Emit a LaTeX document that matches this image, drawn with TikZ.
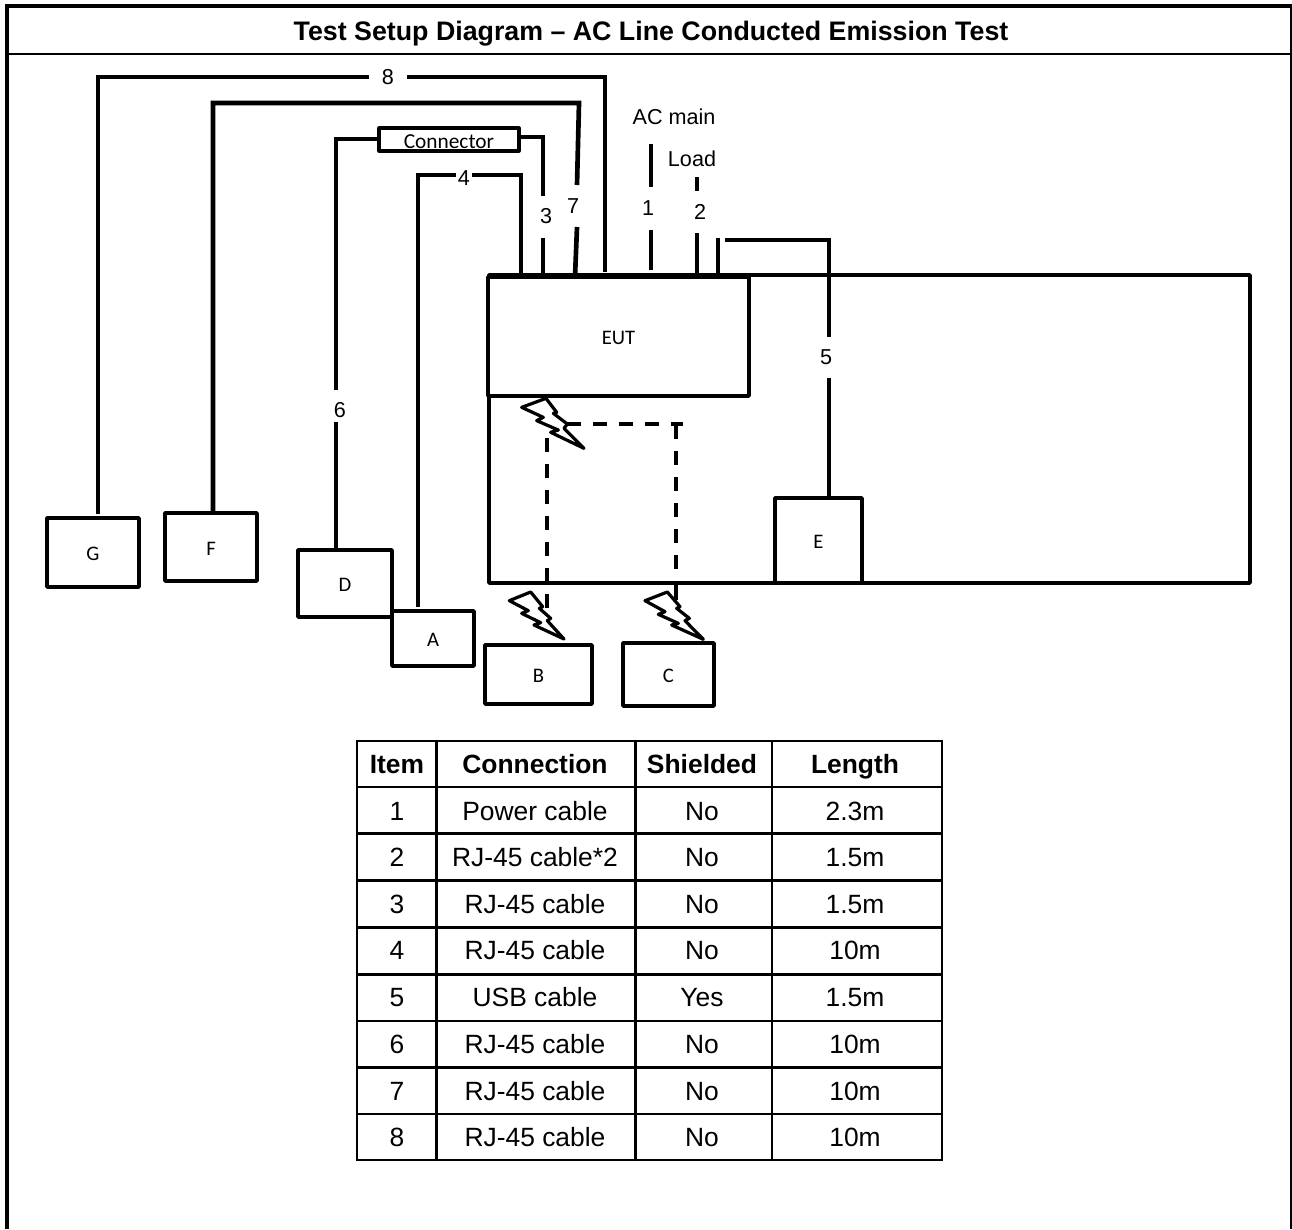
\documentclass[tikz,border=0pt]{standalone}
\usepackage{fontspec}
\setmainfont{Liberation Sans}
\newfontfamily\calfont{Carlito}
\begin{document}
\begin{tikzpicture}[x=0.75pt,y=-0.75pt,
  frameline/.style={line width=3pt,line cap=butt},
  devbox/.style={draw,line width=2.6pt,line join=round,inner sep=0pt,outer sep=0pt,anchor=north west,text height=12pt,text depth=0pt,font=\calfont\fontsize{15.5}{18}\selectfont},
  cable/.style={line width=3.5pt,line join=miter},
  dashcable/.style={line width=3pt,dash pattern=on 10.5pt off 9pt},
  bolt/.style={draw,fill=white,line width=2.4pt,line join=round},
  wirelabel/.style={inner sep=0pt,outer sep=0pt,font=\fontsize{16.2}{18}\selectfont},
  cell/.style={inner sep=0pt,anchor=base,font=\fontsize{19.8}{22}\selectfont},
  headcell/.style={cell,font=\bfseries\fontsize{19.8}{22}\selectfont},
  tableline/.style={line width=2.2pt,line cap=rect}]
\useasboundingbox (0,0) rectangle (1292,1229);
% frame
\draw[frameline] (7,1229) -- (7,6) -- (1292,6);
\draw[line width=1.3pt] (1291.2,6) -- (1291.2,1229);
\draw[line width=2pt] (7,54) -- (1292,54);
\node[cell,font=\bfseries\fontsize{20.08}{22}\selectfont] (title) at (651,40) {Test Setup Diagram – AC Line Conducted Emission Test};
% bench and EUT
\node[devbox,minimum width=570.75pt,minimum height=231pt] (bench) at (489,275) {};
\node[devbox,minimum width=195.75pt,minimum height=89.25pt,fill=white] (EUT) at (488,277) {EUT};
% devices
\node[devbox,minimum width=69pt,minimum height=51.75pt] (G) at (47,518) {G};
\node[devbox,minimum width=69pt,minimum height=51pt] (F) at (165,513) {F};
\node[devbox,minimum width=70.5pt,minimum height=50.25pt] (D) at (298,550) {D};
\node[devbox,minimum width=61.5pt,minimum height=41.25pt] (A) at (392,611) {A};
\node[devbox,minimum width=80.25pt,minimum height=44.25pt] (B) at (485,645) {B};
\node[devbox,minimum width=68.25pt,minimum height=47.25pt] (C) at (623,643) {C};
\node[devbox,minimum width=65.25pt,minimum height=63.75pt] (E) at (775,498) {E};
\node[devbox,line width=2.4pt,minimum width=105pt,minimum height=17.25pt,text height=13.4pt,font=\calfont\fontsize{16}{18}\selectfont] (Conn) at (379,128) {Connector};
% wire labels (their size is the gap left in the cable)
\node[wirelabel,minimum width=28.5pt] (l8) at (388,77) {8};
\node[wirelabel,minimum width=12pt] (l4) at (464,178) {4};
\node[wirelabel,minimum height=31.5pt] (l3) at (546,216.5) {3};
\node[wirelabel,minimum height=31.5pt] (l7) at (573,206) {7};
\node[wirelabel,minimum height=32pt] (l1) at (648,208.5) {1};
\node[wirelabel,minimum height=31.5pt] (l2) at (700,212) {2};
\node[wirelabel,minimum height=31pt] (l5) at (826,357.5) {5};
\node[wirelabel,minimum height=24pt] (l6) at (340,410) {6};
\node[wirelabel] (acmain) at (674,117) {AC main};
\node[wirelabel] (load) at (692,159) {Load};
% cables
\coordinate (g8) at (98,77); \coordinate (e8) at (605,77);
\draw[cable] (g8 |- 0,514) -- (g8) -- (l8.west);
\draw[cable] (l8.east) -- (e8) -- (e8 |- 0,272);
\coordinate (f7) at (213,103); \coordinate (e7) at (579,103);
\draw[cable] (f7 |- F.north) -- (f7) -- (e7) -- (577,185);
\draw[cable] (577,227) -- (575,277);
\coordinate (c6) at (336,139);
\draw[cable] (Conn.west |- c6) -- (c6) -- ([yshift=3pt]c6 |- l6.north);
\draw[cable] ([yshift=3pt]c6 |- l6.south) -- (c6 |- D.north);
\coordinate (c3) at (543,137);
\draw[cable] (Conn.east |- c3) -- (c3) -- (c3 |- l3.north);
\draw[cable] (c3 |- l3.south) -- (c3 |- EUT.north);
\coordinate (a4) at (418,175); \coordinate (e4) at (521,175);
\draw[cable] (a4 |- 0,607) -- (a4) -- (l4.west |- a4);
\draw[cable] (l4.east |- a4) -- (e4) -- (e4 |- EUT.north);
\coordinate (w1) at (651,144);
\draw[cable] (w1) -- (w1 |- l1.north);
\draw[cable] (w1 |- l1.south) -- (651,270);
\coordinate (w2) at (697,177);
\draw[cable] (w2) -- (w2 |- l2.north);
\draw[cable] (w2 |- l2.south) -- (w2 |- EUT.north);
\coordinate (w5a) at (718,238);
\draw[cable] (w5a) -- (w5a |- EUT.north);
\coordinate (w5) at (829,240);
\draw[cable] (725,240) -- (w5) -- (w5 |- l5.north);
\draw[cable] (w5 |- l5.south) -- (w5 |- E.north);
% dashed wireless links
\coordinate (d1) at (547,438); \coordinate (d2) at (547,610);
\coordinate (d3) at (567,424); \coordinate (d4) at (683,424); \coordinate (d5) at (676,572);
\draw[dashcable] (d1) -- (d2);
\draw[dashcable] (d3) -- (d4);
\draw[dashcable] (676,425) -- (d5);
\draw[line width=3pt] (676,583) -- (676,600);
% lightning bolts
\begin{scope}[shift={(460,380)},x=0.25pt,y=-0.25pt]
\draw[bolt] (185,82) -- (258,55) -- (290,97) -- (280,100) -- (322,132) -- (312,145) -- (372,205) -- (272,157) -- (295,150) -- (230,122) -- (250,112) -- cycle;
\draw[bolt] (148,662) -- (212,636) -- (248,680) -- (238,685) -- (272,715) -- (262,722) -- (312,777) -- (222,735) -- (242,728) -- (185,700) -- (205,692) -- cycle;
\draw[bolt] (555,662) -- (622,636) -- (660,680) -- (650,685) -- (688,715) -- (675,722) -- (730,778) -- (635,735) -- (655,730) -- (595,703) -- (615,695) -- cycle;
\end{scope}
% table
\foreach \xx in {357,436.5,635.5,772,942} \draw[tableline] (\xx,741) -- (\xx,1160);
\foreach \yy in {741,787,833.5,880.5,927.5,974.5,1021,1067.5,1114,1160} \draw[tableline] (357,\yy) -- (942,\yy);
\node[headcell] (h1) at (397,773) {Item};
\node[headcell] (h2) at (535,773) {Connection};
\node[headcell] (h3) at (702,773) {Shielded};
\node[headcell] (h4) at (855,773) {Length};
\foreach \i/\yy/\co/\sh/\le in {1/820/Power cable/No/2.3m,2/866/RJ-45 cable*2/No/1.5m,3/913/RJ-45 cable/No/1.5m,4/959/RJ-45 cable/No/10m,5/1006/USB cable/Yes/1.5m,6/1053/RJ-45 cable/No/10m,7/1100/RJ-45 cable/No/10m,8/1146/RJ-45 cable/No/10m}{
  \node[cell] (r\i a) at (397,\yy) {\i};
  \node[cell] (r\i b) at (535,\yy) {\co};
  \node[cell] (r\i c) at (702,\yy) {\sh};
  \node[cell] (r\i d) at (855,\yy) {\le};
}
\end{tikzpicture}
\end{document}
